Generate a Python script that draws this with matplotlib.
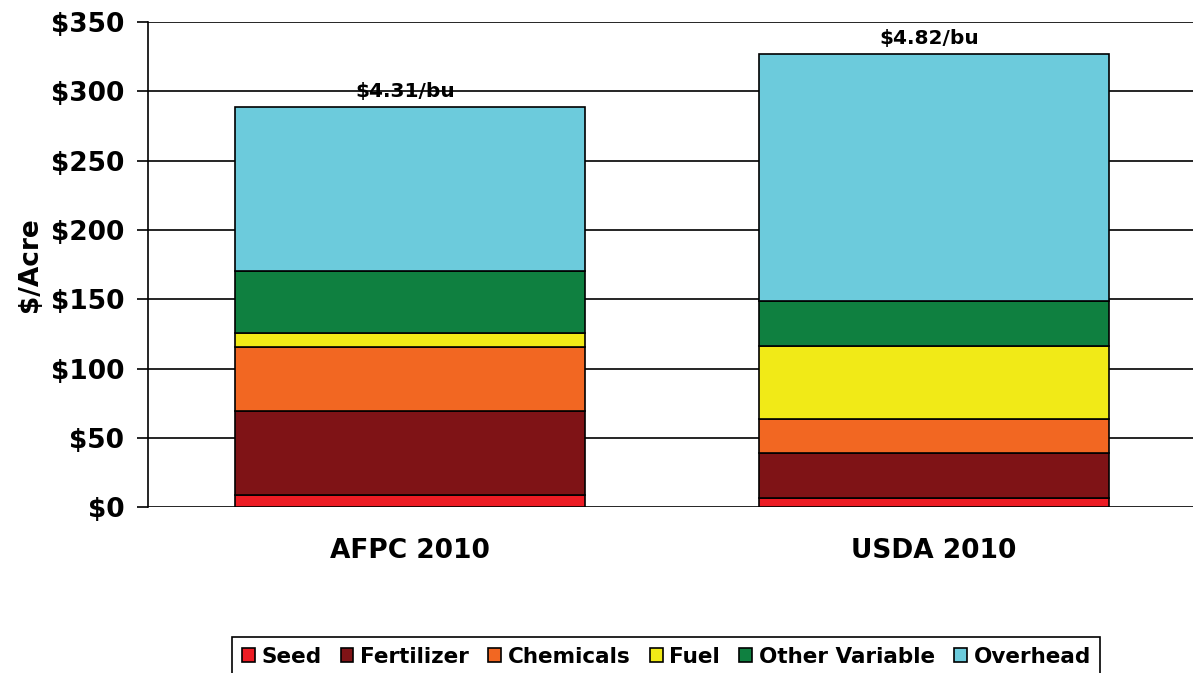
import matplotlib.pyplot as plt
import numpy as np

# cost per acre by component
sources = ["AFPC 2010", "USDA 2010"]
components = ["Seed", "Fertilizer", "Chemicals", "Fuel", "Other Variable", "Overhead"]
seed = [8.9, 6.5]
fertilizer = [60.6, 32.9]
chemicals = [45.9, 24.5]
fuel = [10.1, 52.7]
other_variable = [45.1, 32.5]
overhead = [117.8, 177.7]
per_bushel = ["$4.31/bu", "$4.82/bu"]

colors = ["#ed1c24", "#7f1316", "#f26722", "#f1ea17", "#0f8040", "#6ccbdc"]


def main():
    fig = plt.figure(figsize=(11.93, 6.73), dpi=100)
    ax = fig.add_axes([148 / 1193, 1 - 507.3 / 673, 1048 / 1193, 485.3 / 673])

    x = np.arange(len(sources))
    series = [seed, fertilizer, chemicals, fuel, other_variable, overhead]
    bottom = np.zeros(len(sources))
    for name, vals, col in zip(components, series, colors):
        ax.bar(x, vals, width=0.668, bottom=bottom, color=col, edgecolor="black",
               linewidth=1.2, label=name, zorder=3)
        bottom += np.array(vals)

    for xi, total, lab in zip(x, bottom, per_bushel):
        ax.text(xi - 0.01, total + 11.5, lab, ha="center", va="center", fontsize=14.5,
                fontweight="bold", zorder=4)

    ax.set_xlim(-0.5, 1.5)
    ax.set_ylim(0, 350)
    ax.set_yticks(np.arange(0, 351, 50))
    ax.set_yticklabels(["$%d" % v for v in range(0, 351, 50)], fontsize=19, fontweight="bold")
    ax.set_xticks(x)
    ax.set_xticklabels(sources, fontsize=19, fontweight="bold")
    ax.tick_params(axis="x", length=0, pad=22)
    ax.tick_params(axis="y", length=8, width=1.2, direction="out", pad=9)
    ax.yaxis.grid(True, color="black", linewidth=1.2, zorder=0)
    ax.set_axisbelow(True)
    for s in ["top", "right", "bottom"]:
        ax.spines[s].set_visible(False)
    ax.spines["left"].set_linewidth(1.2)
    ax.set_ylabel("$/Acre", fontsize=19, fontweight="bold", labelpad=6)

    leg = fig.legend(loc="upper left", bbox_to_anchor=(232 / 1193, 1 - 637 / 673), ncol=6,
                     frameon=True, fancybox=False, edgecolor="black", framealpha=1,
                     prop={"weight": "bold", "size": 15.5}, handlelength=0.6, handleheight=0.6,
                     handletextpad=0.3, columnspacing=0.9, borderpad=0.45, borderaxespad=0)
    leg.get_frame().set_linewidth(1.2)

    fig.savefig("out.png", dpi=100)


if __name__ == "__main__":
    main()
